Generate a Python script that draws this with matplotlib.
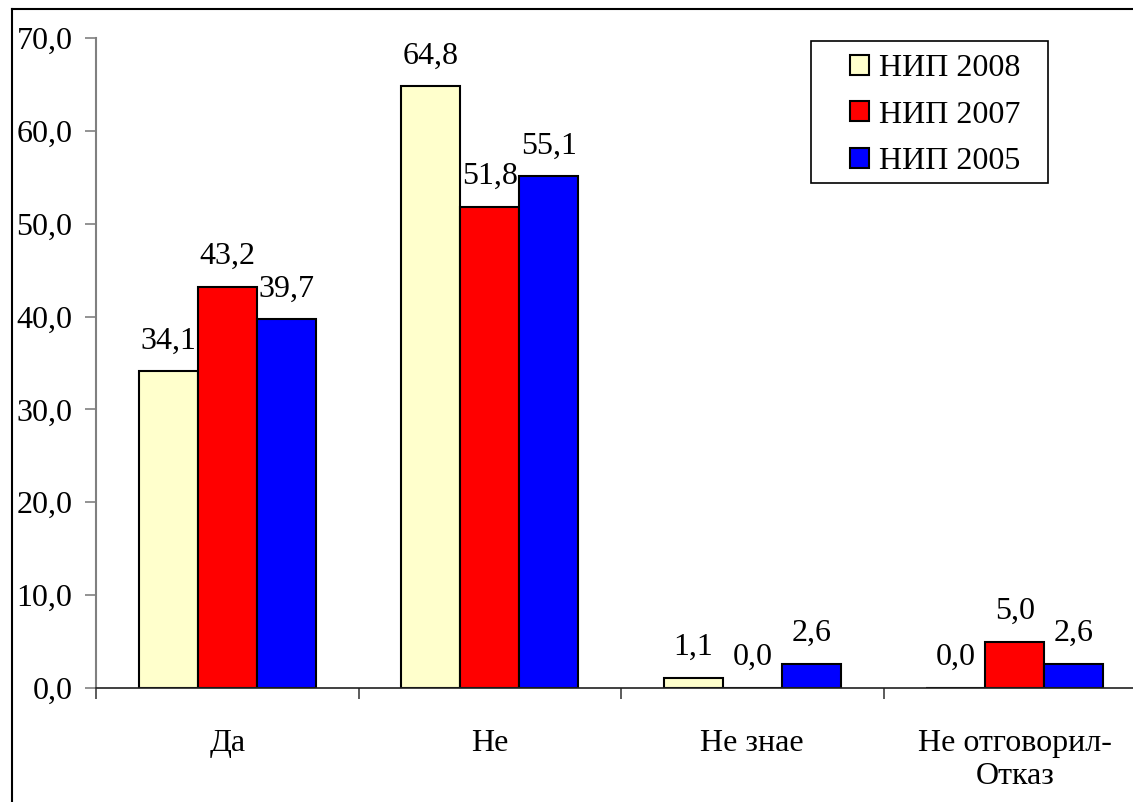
import matplotlib
matplotlib.use('Agg')
import matplotlib.pyplot as plt
from matplotlib.patches import Rectangle
from matplotlib.lines import Line2D
import numpy as np

categories = ['Да', 'Не', 'Не знае', 'Не отговорил-\nОтказ']
series_names = ['НИП 2008', 'НИП 2007', 'НИП 2005']
nip_2008 = [34.1, 64.8, 1.1, 0.0]
nip_2007 = [43.2, 51.8, 0.0, 5.0]
nip_2005 = [39.7, 55.1, 2.6, 2.6]
colors = ['#FFFFCC', '#FF0000', '#0000FF']

plt.rcParams['font.family'] = 'serif'
plt.rcParams['font.serif'] = ['Liberation Serif', 'DejaVu Serif']
plt.rcParams['font.size'] = 23

W, H = 1133, 802
fig = plt.figure(figsize=(W / 100, H / 100), dpi=100)
ax = fig.add_axes([96 / W, 1 - 688 / H, 1050 / W, 650 / H])

x = np.arange(len(categories))
bw = 0.225
for i, (vals, name, col) in enumerate(zip([nip_2008, nip_2007, nip_2005], series_names, colors)):
    pos = x + (i - 1) * bw
    ax.bar(pos, vals, bw, color=col, edgecolor='black', linewidth=1.5, label=name)
    # value labels with the baseline a fixed distance above the bar top
    for px, v in zip(pos, vals):
        ax.annotate(f'{v:.1f}'.replace('.', ','), (px, v), xytext=(0, 16.5),
                    textcoords='offset points', ha='center', va='baseline')

ax.set_xlim(-0.5, 3.5)
ax.set_ylim(0, 70)
ax.set_yticks(np.arange(0, 71, 10))
ax.set_yticklabels([f'{v:.1f}'.replace('.', ',') for v in np.arange(0, 71, 10)])

# boundaries between groups get ticks, labels sit in the middle
ax.set_xticks([-0.5, 0.5, 1.5, 2.5])
ax.set_xticklabels([])
ax.set_xticks(x, minor=True)
ax.set_xticklabels(categories, minor=True)
ax.tick_params(axis='x', which='minor', length=0, pad=29.5)
ax.tick_params(axis='x', which='major', length=8, width=1.2, color='#404040', direction='out')
ax.tick_params(axis='y', length=8, width=1.2, color='#808080', direction='out', pad=9)

for s in ['top', 'right']:
    ax.spines[s].set_visible(False)
ax.spines['left'].set_color('#808080')
ax.spines['left'].set_linewidth(1.5)
ax.spines['bottom'].set_color('#202020')
ax.spines['bottom'].set_linewidth(1.2)

# legend with its own frame
leg = fig.legend(loc='upper left', bbox_to_anchor=(850 / W, 1 - 54 / H),
                 frameon=False, handlelength=0.6, handleheight=0.6,
                 handletextpad=0.3, labelspacing=0.55, borderpad=0,
                 borderaxespad=0, fontsize=23)
for h in leg.legend_handles:
    h.set_linewidth(1.5)
fig.add_artist(Rectangle((811 / W, 1 - 183 / H), 237 / W, 142 / H,
                         transform=fig.transFigure, fill=False,
                         edgecolor='black', linewidth=1.2))

# outer chart border (left and top edges)
fig.add_artist(Line2D([12 / W, 12 / W], [0, 1 - 9 / H], transform=fig.transFigure,
                      color='black', linewidth=1.5))
fig.add_artist(Line2D([12 / W, 1], [1 - 9 / H, 1 - 9 / H], transform=fig.transFigure,
                      color='black', linewidth=1.5))

fig.savefig('out.png', dpi=100)
